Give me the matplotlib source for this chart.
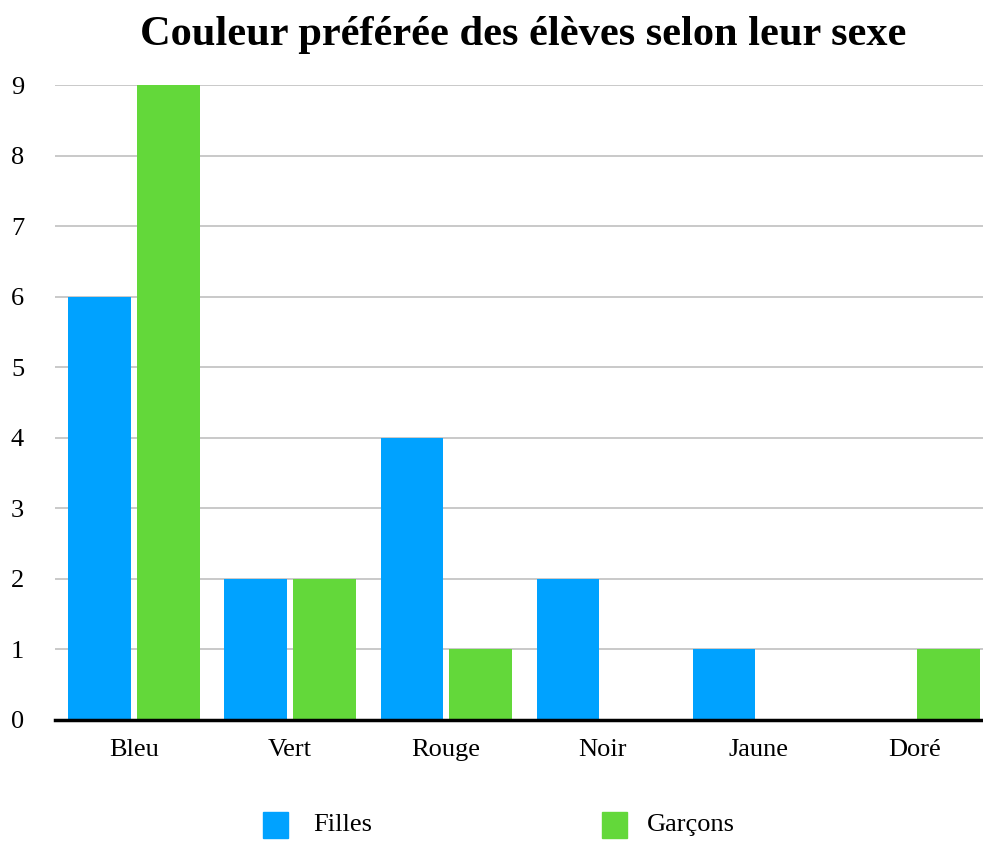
import matplotlib
matplotlib.use("Agg")
import matplotlib.pyplot as plt
import numpy as np

categories = ["Bleu", "Vert", "Rouge", "Noir", "Jaune", "Doré"]
filles = [6, 2, 4, 2, 1, 0]
garcons = [9, 2, 1, 0, 0, 1]
series_names = ["Filles", "Garçons"]
colors = ["#00A2FF", "#63D83A"]

plt.rcParams['font.family'] = ['Liberation Serif', 'DejaVu Serif']

fig = plt.figure(figsize=(9.83, 8.42), dpi=100)
ax = fig.add_axes([55/983, 1-720/842, 928/983, (720-85)/842])

x = np.arange(len(categories))
w = 0.40
ax.bar(x - 0.22, filles, width=w, color=colors[0], zorder=3)
ax.bar(x + 0.22, garcons, width=w, color=colors[1], zorder=3)

ax.set_xlim(-0.506, 5.44)
ax.set_ylim(0, 9)
ax.set_yticks(range(0, 10))
ax.yaxis.grid(True, color="#c0c0c0", linewidth=1.2, zorder=0)
ax.set_axisbelow(True)
for s in ["top", "right", "left"]:
    ax.spines[s].set_visible(False)
ax.spines["bottom"].set_linewidth(2.5)
ax.spines["bottom"].set_color("black")
ax.spines["bottom"].set_zorder(4)
ax.tick_params(axis="both", length=0, labelsize=19)
ax.tick_params(axis="y", pad=27)
ax.tick_params(axis="x", pad=14)
for lbl in ax.get_yticklabels():
    lbl.set_horizontalalignment("center")
ax.set_xticks(x)
ax.set_xticklabels(categories)

fig.text(523/983, 1-35/842, "Couleur préférée des élèves selon leur sexe", ha="center", va="center",
         fontsize=30.5, fontweight="bold")

# legend
for px, tx, name, c in [(263, 313, series_names[0], colors[0]), (602, 647, series_names[1], colors[1])]:
    fig.patches.append(matplotlib.patches.Rectangle((px/983, 1-838/842), 25/983, 26/842,
                                                    transform=fig.transFigure, color=c, figure=fig))
    fig.text(tx/983, 1-825/842, name, ha="left", va="center", fontsize=19)

fig.savefig("out.png", dpi=100)
